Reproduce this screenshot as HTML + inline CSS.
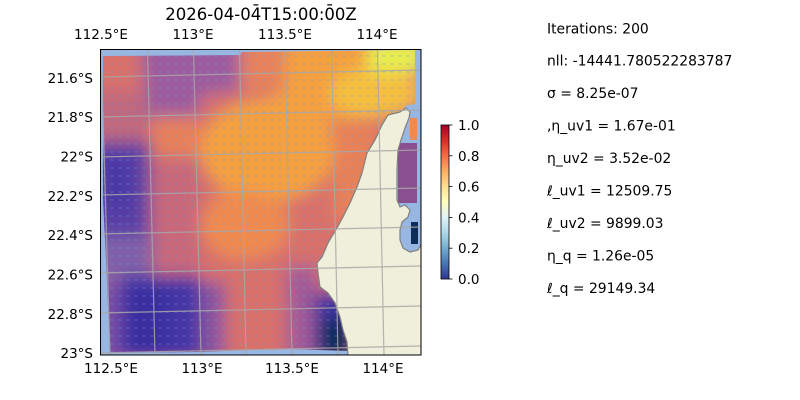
<!DOCTYPE html>
<html>
<head>
<meta charset="utf-8">
<style>
html,body{margin:0;padding:0;background:#fff;}
svg{display:block;}
text{font-family:"DejaVu Sans","Liberation Sans",sans-serif;fill:#000;}
</style>
</head>
<body>
<svg width="800" height="400" viewBox="0 0 800 400" xmlns="http://www.w3.org/2000/svg">
<defs>
  <clipPath id="frame"><rect x="100" y="49" width="321" height="306"/></clipPath>
  <clipPath id="field">
    <polygon points="103,56 240,55 242,52 415,50 415,104 405,106 392,135 372,195 348,255 335,300 349,345 349,351 290,349 250,350 200,352 110,353 106,260 103,200"/>
  </clipPath>
  <filter id="blur" x="-20%" y="-20%" width="140%" height="140%">
    <feGaussianBlur stdDeviation="8"/>
  </filter>
  <pattern id="quiv" x="100" y="52" width="8" height="8" patternUnits="userSpaceOnUse">
    <rect x="2.5" y="3.5" width="3" height="1" fill="#6a9ad6" opacity="0.5"/>
  </pattern>
  <linearGradient id="cmap" x1="0" y1="1" x2="0" y2="0">
    <stop offset="0" stop-color="#313695"/>
    <stop offset="0.1" stop-color="#4575b4"/>
    <stop offset="0.2" stop-color="#74add1"/>
    <stop offset="0.3" stop-color="#abd9e9"/>
    <stop offset="0.4" stop-color="#e0f3f8"/>
    <stop offset="0.5" stop-color="#ffffbf"/>
    <stop offset="0.6" stop-color="#fee090"/>
    <stop offset="0.7" stop-color="#fdae61"/>
    <stop offset="0.8" stop-color="#f46d43"/>
    <stop offset="0.9" stop-color="#d73027"/>
    <stop offset="1" stop-color="#a50026"/>
  </linearGradient>
</defs>

<!-- title -->
<text x="261" y="20" font-size="16.5" text-anchor="middle">2026-04-04̄T15:00:0̄0Z</text>

<!-- map -->
<g clip-path="url(#frame)">
  <rect x="100" y="49" width="321" height="306" fill="#97b6e1"/>
  <g clip-path="url(#field)">
    <g filter="url(#blur)">
      <rect x="80" y="30" width="360" height="340" fill="#d9706a"/>
      <!-- top band -->
      <polygon points="140,40 245,40 245,90 200,95 200,118 147,118" fill="#9c5c9e"/>
      <rect x="90" y="92" width="57" height="50" fill="#c0687e"/>
      <rect x="240" y="40" width="50" height="50" fill="#e8825c"/>
      <polygon points="285,40 385,40 385,115 335,122 285,100" fill="#f5a040"/>
      <ellipse cx="375" cy="92" rx="45" ry="25" fill="#f5c040"/>
      <rect x="368" y="40" width="55" height="32" fill="#e8ee50"/>
      <!-- center orange -->
      <rect x="153" y="116" width="47" height="40" fill="#e8805a"/>
      <ellipse cx="268" cy="150" rx="68" ry="52" fill="#f5a040"/>
      <ellipse cx="300" cy="108" rx="35" ry="20" fill="#f5a040"/>
      <ellipse cx="245" cy="225" rx="45" ry="35" fill="#f08a50"/>
      <rect x="333" y="122" width="45" height="100" fill="#e88058"/>
      <!-- left side -->
      <rect x="90" y="142" width="60" height="94" fill="#5a40a5"/>
      <rect x="104" y="155" width="24" height="55" fill="#4a38a5"/>
      <rect x="150" y="160" width="50" height="120" fill="#c8687a"/>
      <rect x="90" y="236" width="63" height="44" fill="#8060a8"/>
      <!-- bottom -->
      <rect x="120" y="276" width="80" height="85" fill="#4535a5"/>
      <rect x="127" y="285" width="40" height="70" fill="#3a2ea0"/>
      <rect x="90" y="282" width="30" height="80" fill="#7a50a5"/>
      <rect x="200" y="282" width="25" height="80" fill="#8a55a0"/>
      <rect x="287" y="266" width="30" height="95" fill="#a05a98"/>
      <rect x="315" y="292" width="40" height="70" fill="#3c30a0"/>
      <rect x="320" y="318" width="35" height="45" fill="#0e2f5e"/>
    </g>
    <rect x="100" y="49" width="321" height="306" fill="url(#quiv)"/>
  </g>
  <!-- small patches right of peninsula -->
  <rect x="410" y="118" width="7" height="22" fill="#ec8a52"/>
  <rect x="398" y="143" width="19" height="60" fill="#8a4f8e"/>
  <rect x="411" y="222" width="7" height="22" fill="#0c2c5a"/>
  <!-- land -->
  <polygon fill="#efefdb" stroke="#808080" stroke-width="1.2" stroke-linejoin="round"
    points="406,108 400,112 388,115 382,125 375,140 367,153 362,173 357,187 350,203 343,217 337,228 328,243 322,257 317,263 318,273 320,287 328,293 335,303 340,317 343,330 347,342 348,356 422,356 422,243 418,250 410,252 403,248 400,240 400,230 402,222 408,217 410,210 405,205 400,207 397,200 397,170 398,150 401,140 405,128 409,118 410,112"/>
  <!-- gridlines -->
  <g stroke="#a8a8a8" stroke-width="1.2" opacity="0.85" fill="none">
    <line x1="100" y1="77" x2="421" y2="70"/>
    <line x1="100" y1="117" x2="421" y2="110"/>
    <line x1="100" y1="157" x2="421" y2="150"/>
    <line x1="100" y1="195" x2="421" y2="188"/>
    <line x1="100" y1="234" x2="421" y2="227"/>
    <line x1="100" y1="273" x2="421" y2="266"/>
    <line x1="100" y1="313" x2="421" y2="306"/>
    <line x1="100" y1="353" x2="421" y2="346"/>
    <line x1="101" y1="49" x2="110" y2="355"/>
    <line x1="147.5" y1="49" x2="155" y2="355"/>
    <line x1="193.5" y1="49" x2="201" y2="355"/>
    <line x1="239.5" y1="49" x2="246" y2="355"/>
    <line x1="285" y1="49" x2="292" y2="355"/>
    <line x1="331.5" y1="49" x2="338" y2="355"/>
    <line x1="377.5" y1="49" x2="384" y2="355"/>
  </g>
</g>
<rect x="100.5" y="49.5" width="320.5" height="305.5" fill="none" stroke="#000" stroke-width="1"/>

<!-- lon labels -->
<g font-size="13.5" text-anchor="middle">
  <text x="101" y="39">112.5°E</text>
  <text x="193" y="39">113°E</text>
  <text x="285" y="39">113.5°E</text>
  <text x="377" y="39">114°E</text>
  <text x="111" y="373">112.5°E</text>
  <text x="202" y="373">113°E</text>
  <text x="292" y="373">113.5°E</text>
  <text x="383" y="373">114°E</text>
</g>
<!-- lat labels -->
<g font-size="13.5" text-anchor="end">
  <text x="93" y="83">21.6°S</text>
  <text x="93" y="122">21.8°S</text>
  <text x="93" y="161.5">22°S</text>
  <text x="93" y="201">22.2°S</text>
  <text x="93" y="240">22.4°S</text>
  <text x="93" y="279.5">22.6°S</text>
  <text x="93" y="319">22.8°S</text>
  <text x="93" y="358">23°S</text>
</g>

<!-- colorbar -->
<rect x="441" y="125" width="8" height="154" fill="url(#cmap)"/>
<rect x="441" y="125" width="8" height="154" fill="none" stroke="#000" stroke-width="0.8"/>
<g stroke="#000" stroke-width="0.8">
  <line x1="449" y1="125" x2="452.5" y2="125"/>
  <line x1="449" y1="155.8" x2="452.5" y2="155.8"/>
  <line x1="449" y1="186.6" x2="452.5" y2="186.6"/>
  <line x1="449" y1="217.4" x2="452.5" y2="217.4"/>
  <line x1="449" y1="248.2" x2="452.5" y2="248.2"/>
  <line x1="449" y1="279" x2="452.5" y2="279"/>
</g>
<g font-size="13.5">
  <text x="458" y="130">1.0</text>
  <text x="458" y="161">0.8</text>
  <text x="458" y="191.5">0.6</text>
  <text x="458" y="222.5">0.4</text>
  <text x="458" y="253">0.2</text>
  <text x="458" y="284">0.0</text>
</g>

<!-- info text -->
<g font-size="13.9">
  <text x="547" y="33.5">Iterations: 200</text>
  <text x="547" y="65.5">nll: -14441.780522283787</text>
  <text x="547" y="98">σ = 8.25e-07</text>
  <text x="547" y="130.5">,η_uv1 = 1.67e-01</text>
  <text x="547" y="163">η_uv2 = 3.52e-02</text>
  <text x="547" y="195.5">ℓ_uv1 = 12509.75</text>
  <text x="547" y="228">ℓ_uv2 = 9899.03</text>
  <text x="547" y="260.5">η_q = 1.26e-05</text>
  <text x="547" y="293">ℓ_q = 29149.34</text>
</g>
</svg>
</body>
</html>
